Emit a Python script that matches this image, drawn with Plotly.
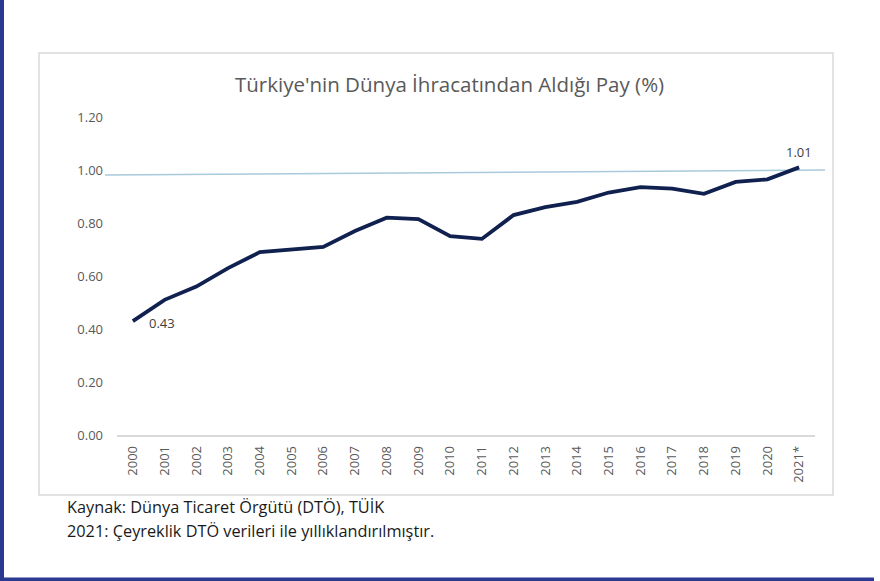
import plotly.graph_objects as go

W, H = 880, 581

years = [str(y) for y in range(2000, 2021)] + ["2021*"]
share = [0.43, 0.51, 0.56, 0.63, 0.69, 0.70, 0.71, 0.77, 0.82, 0.815, 0.75,
         0.74, 0.83, 0.86, 0.88, 0.915, 0.935, 0.93, 0.91, 0.955, 0.965, 1.01]
ref_line = [0.981, 1.00]
y_ticks = [0.0, 0.2, 0.4, 0.6, 0.8, 1.0, 1.2]

title = "Türkiye'nin Dünya İhracatından Aldığı Pay (%)"
note1 = "Kaynak: Dünya Ticaret Örgütü (DTÖ), TÜİK"
note2 = "2021: Çeyreklik DTÖ verileri ile yıllıklandırılmıştır."

FONT = "Open Sans"
GREY = "#595959"
STRIP = "#2b3990"


def px(x):
    return x / W


def py(y):
    return 1 - y / H


fig = go.Figure()
fig.add_trace(go.Scatter(
    x=years, y=share, mode="lines",
    line=dict(color="#10204f", width=3.8),
    hoverinfo="x+y", showlegend=False,
))

shapes = [
    dict(type="rect", xref="paper", yref="paper",
         x0=px(39), x1=px(833), y0=py(495), y1=py(53),
         line=dict(color="#d9d9d9", width=1.5), fillcolor="rgba(0,0,0,0)", layer="below"),
    # left strip
    dict(type="line", xref="paper", yref="paper",
         x0=px(2), x1=px(2), y0=py(581), y1=py(0),
         line=dict(color=STRIP, width=4)),
    # bottom strip
    dict(type="line", xref="paper", yref="paper",
         x0=px(0), x1=px(874), y0=py(579.3), y1=py(579.3),
         line=dict(color=STRIP, width=3.5)),
    dict(type="line", xref="paper", yref="y",
         x0=px(105), x1=px(825), y0=ref_line[0], y1=ref_line[1],
         line=dict(color="#a9c9dc", width=1.5), layer="below"),
]

n = len(years)
annotations = [
    dict(text=title, x=px(449), y=py(84), xref="paper", yref="paper",
         showarrow=False, xanchor="center", yanchor="middle",
         font=dict(family=FONT, size=20.5, color=GREY)),
    dict(text=f"{share[0]:.2f}", x=0, y=share[0], xref="x", yref="y",
         showarrow=False, xanchor="left", yanchor="middle", xshift=14, yshift=-2,
         font=dict(family=FONT, size=13, color="#404040")),
    dict(text=f"{share[-1]:.2f}", x=n - 1, y=share[-1], xref="x", yref="y",
         showarrow=False, xanchor="center", yanchor="bottom", yshift=4,
         font=dict(family=FONT, size=13, color="#404040")),
    dict(text=note1, x=px(65), y=py(507), xref="paper", yref="paper",
         showarrow=False, xanchor="left", yanchor="middle",
         font=dict(family=FONT, size=16.3, color="#1a1a1a")),
    dict(text=note2, x=px(65), y=py(531), xref="paper", yref="paper",
         showarrow=False, xanchor="left", yanchor="middle",
         font=dict(family=FONT, size=16.3, color="#1a1a1a")),
]

fig.update_layout(
    width=W, height=H, autosize=False,
    margin=dict(l=0, r=0, t=0, b=0, pad=0, autoexpand=False),
    paper_bgcolor="white", plot_bgcolor="white",
    shapes=shapes, annotations=annotations,
    font=dict(family=FONT, color=GREY),
    showlegend=False,
    xaxis=dict(
        domain=[px(117), px(815)], type="category",
        categoryorder="array", categoryarray=years,
        range=[-0.5, n - 0.5], autorange=False, automargin=False,
        tickangle=-90, tickfont=dict(family=FONT, size=13, color=GREY),
        showgrid=False, zeroline=False, showline=True,
        linecolor="#d9d9d9", linewidth=1.5, ticks="", ticklabelstandoff=4,
    ),
    yaxis=dict(
        domain=[py(435), py(117)], range=[0, 1.2], autorange=False, automargin=False,
        tickvals=y_ticks, tickformat=".2f",
        tickfont=dict(family=FONT, size=13, color=GREY),
        showgrid=False, zeroline=False, showline=False, ticks="",
        ticklabelstandoff=13,
    ),
)

fig.write_html(
    "out.html",
    config={"displayModeBar": False},
    post_script="document.body.style.margin='0';document.body.style.overflow='hidden';",
)
